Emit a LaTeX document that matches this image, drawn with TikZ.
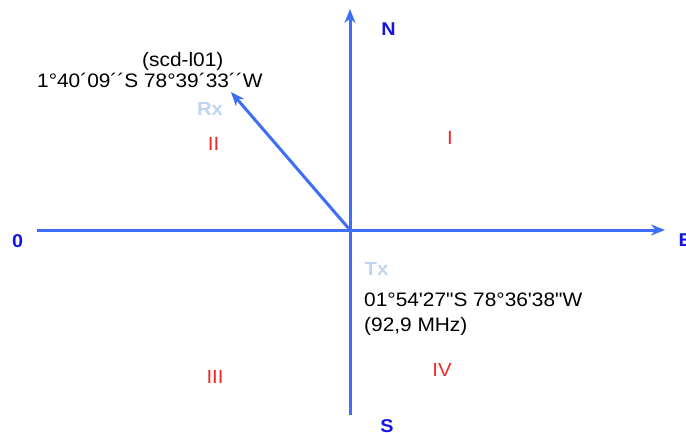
\documentclass[tikz,border=0pt]{standalone}
\usepackage{fontspec}
\setmainfont{Liberation Sans}[FakeStretch=1.07, Ligatures=TeXOff]
\usetikzlibrary{arrows.meta}
\definecolor{axisblue}{RGB}{62,110,245}
\definecolor{lblblue}{RGB}{20,20,230}
\definecolor{rxblue}{RGB}{190,212,240}
\definecolor{quadred}{RGB}{240,40,40}
\tikzset{
  axis/.style={draw=axisblue, line width=3pt, -{Stealth[length=14pt,width=11pt,inset=4.5pt]}},
  cardinal/.style={font=\fontsize{18.5}{22}\selectfont\bfseries, text=lblblue, inner sep=0pt},
  quad/.style={font=\fontsize{19}{22}\selectfont, text=quadred, inner sep=0pt},
  station/.style={font=\fontsize{19}{22}\selectfont\bfseries, text=rxblue, inner sep=0pt},
  info/.style={font=\fontsize{19.5}{23}\selectfont, text=black, inner sep=0pt, anchor=base west},
}
\begin{document}
\begin{tikzpicture}[x=1pt,y=-1pt]
\useasboundingbox (0,0) rectangle (686,432);
\coordinate (O) at (350,230);
\coordinate (W) at (37,230);
\coordinate (Eend) at (665,230);
\coordinate (Send) at (350,415);
\coordinate (Nend) at (350,9);
\coordinate (RxTip) at (231,92);
\draw[axis] (W) -- (Eend);
\draw[axis] (Send) -- (Nend);
\draw[axis] (O) -- (RxTip);
\node[cardinal] (n) at (388.5,29.5) {N};
\node[cardinal, anchor=west] (e) at (678.5,240) {E};
\node[cardinal] (zero) at (17.7,241.5) {0};
\node[cardinal] (s) at (387,426) {S};
\node[quad] (q1) at (450,138) {I};
\node[quad] (q2) at (213.5,143.5) {II};
\node[quad] (q3) at (215,377) {III};
\node[quad] (q4) at (442,369.5) {IV};
\node[station] (rx) at (210,109) {Rx};
\node[station] (tx) at (376.5,269) {Tx};
\node[info] (rxname) at (142,66.5) {(scd-l01)};
\node[info] (rxcoord) at (37,87) {1°40´09´´S 78°39´33´´W};
\node[info] (txcoord) at (364,306) {01°54'27"S 78°36'38"W};
\node[info] (txfreq) at (364,331) {(92,9 MHz)};
\end{tikzpicture}
\end{document}
